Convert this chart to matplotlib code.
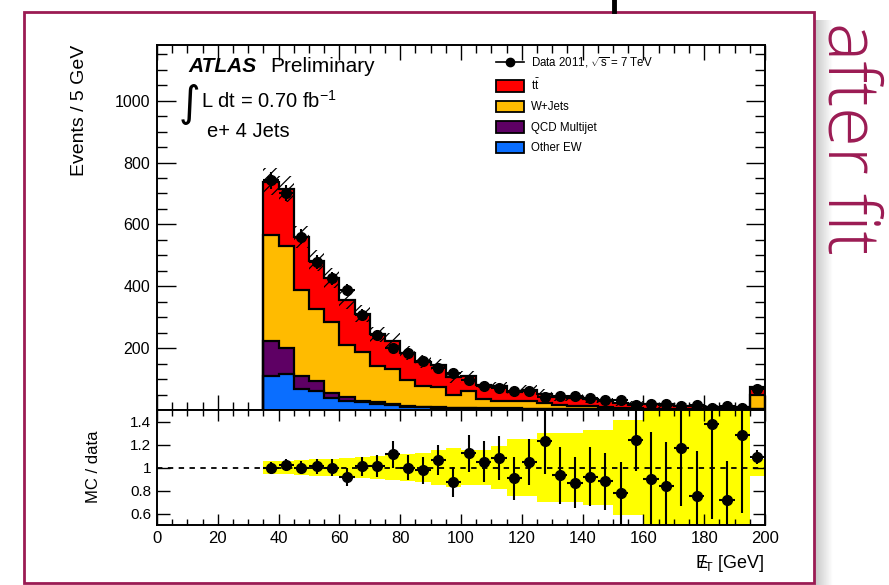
import numpy as np
import matplotlib
matplotlib.use("Agg")
import matplotlib.pyplot as plt
from matplotlib.patches import Patch, Rectangle
from matplotlib.lines import Line2D
from matplotlib.ticker import MultipleLocator

plt.rcParams["font.family"] = ["Liberation Sans", "DejaVu Sans"]
plt.rcParams["mathtext.fontset"] = "custom"
plt.rcParams["mathtext.rm"] = "Liberation Sans"
plt.rcParams["mathtext.it"] = "Liberation Sans:italic"
plt.rcParams["mathtext.bf"] = "Liberation Sans:bold"
plt.rcParams["hatch.linewidth"] = 0.9

# MET in 5 GeV bins starting at 35 GeV, the last bin holds the overflow
edges = np.arange(35, 201, 5)
centres = edges[:-1] + 2.5

data = [742, 702, 560, 478, 426, 388, 308, 242, 200, 184,
        160, 135, 121, 98, 78, 71, 63, 62, 43, 44,
        46, 38, 33, 31, 17, 20, 19, 12, 16, 8,
        14, 7, 68]
ttbar = [173, 185, 172, 155, 141, 146, 123, 104, 91, 86,
         78, 71, 58, 48, 47, 47, 28, 37, 31, 24,
         28, 23, 20, 17, 16, 14, 13, 11, 9, 9,
         8, 7, 26]
wjets = [341, 330, 277, 233, 230, 169, 160, 116, 112, 84,
         67, 64, 40, 55, 29, 25, 24, 24, 18, 14,
         9, 10, 7, 5, 4, 3, 2, 2, 2, 1,
         1, 1, 44]
qcd = [115, 84, 43, 33, 17, 11, 3, 6, 5, 3,
       2, 2, 2, 2, 2, 1, 2, 1, 1, 1,
       1, 0, 1, 1, 0, 0, 0, 0.5, 0.5, 0.5,
       0.5, 0.5, 2]
other_ew = [109, 116, 68, 62, 38, 30, 25, 19, 15, 11,
            9, 7, 6, 5, 4, 4, 3, 3, 3, 2,
            2, 2, 1, 1, 1, 1, 1, 0.5, 0.5, 0.5,
            0.5, 0.5, 2]
# relative MC uncertainty (yellow band / hatching)
mc_unc = [0.058, 0.06, 0.065, 0.07, 0.075, 0.08, 0.09, 0.10, 0.11, 0.12,
          0.13, 0.15, 0.17, 0.15, 0.15, 0.19, 0.25, 0.25, 0.30, 0.30,
          0.30, 0.33, 0.33, 0.41, 0.41, 0.6, 0.6, 0.6, 0.6, 0.6,
          0.6, 0.6, 0.07]
ratio_err = [0.05, 0.053, 0.058, 0.065, 0.07, 0.077, 0.083, 0.097, 0.117, 0.108,
             0.118, 0.13, 0.13, 0.16, 0.18, 0.19, 0.19, 0.2, 0.285, 0.245,
             0.22, 0.256, 0.25, 0.27, 0.27, 0.41, 0.38, 0.5, 0.39, 0.82,
             0.34, 0.68, 0.06]

samples = [other_ew, qcd, wjets, ttbar]
colours = ["#0a6eff", "#5e0064", "#ffbb00", "#ff0000"]
labels = [r"Data 2011, $\sqrt{\mathrm{s}}$ = 7 TeV", r"$\mathrm{t\bar{t}}$",
          "W+Jets", "QCD Multijet", "Other EW"]

maroon = "#9b1b53"

fig = plt.figure(figsize=(8.89, 5.85), dpi=100)
ax = fig.add_axes([157 / 889, 1 - 410 / 585, 608 / 889, 365 / 585])
rax = fig.add_axes([157 / 889, 1 - 525 / 585, 608 / 889, 115 / 585], sharex=ax)

# stacked backgrounds, drawn from the total downwards
levels = np.cumsum(samples, axis=0)
for level, colour in reversed(list(zip(levels, colours))):
    ax.stairs(level, edges, fill=True, color=colour, zorder=2)
    ax.stairs(level, edges, color="black", lw=1.6, zorder=3)

mc_total = levels[-1]
unc = np.array(mc_unc)
ax.stairs(mc_total * (1 + unc), edges, baseline=mc_total * (1 - unc), fill=True,
          facecolor="none", edgecolor="black", hatch="///", lw=0, zorder=4)

data = np.array(data, dtype=float)
ax.errorbar(centres, data, yerr=np.sqrt(data), xerr=2.5, fmt="o", color="black",
            ms=7, lw=1.5, capsize=0, zorder=5)

ax.set_xlim(0, 200)
ax.set_ylim(0, 1180)
ax.set_yticks([200, 400, 600, 800, 1000])
ax.yaxis.set_minor_locator(MultipleLocator(50))
ax.xaxis.set_major_locator(MultipleLocator(20))
ax.xaxis.set_minor_locator(MultipleLocator(5))
ax.tick_params(which="both", direction="in", top=True, right=True, width=1.0,
               labelbottom=False, labelsize=11.5, pad=5)
ax.tick_params(axis="y", which="major", length=14)
ax.tick_params(axis="y", which="minor", length=7)
ax.tick_params(axis="x", which="major", length=11)
ax.tick_params(axis="x", which="minor", length=5.5)

ax.text(0.051, 0.94, "ATLAS", transform=ax.transAxes, fontsize=15,
        fontweight="bold", style="italic", va="center")
ax.text(0.186, 0.94, "Preliminary", transform=ax.transAxes, fontsize=15, va="center")
ax.text(0.053, 0.838, "\u222b", transform=ax.transAxes, fontsize=30,
        family="DejaVu Sans", ha="center", va="center")
ax.text(0.072, 0.827, r"L dt = 0.70 fb$^{\mathregular{-1}}$", transform=ax.transAxes,
        fontsize=14.5, va="baseline")
ax.text(0.082, 0.748, "e+ 4 Jets", transform=ax.transAxes, fontsize=14.5, va="baseline")

handles = [Line2D([], [], color="black", marker="o", ms=6, lw=1.2)]
for colour in reversed(colours):
    handles.append(Patch(facecolor=colour, edgecolor="black", lw=1.3))
ax.legend(handles, labels, loc="upper left", bbox_to_anchor=(0.558, 0.972),
          frameon=False, fontsize=8.3, handlelength=2.4, handleheight=1.15,
          labelspacing=0.68, handletextpad=0.6, borderpad=0, borderaxespad=0)

# ratio panel
ratio = mc_total / data
rax.stairs(1 + unc, edges, baseline=1 - unc, fill=True, color="#ffff00", zorder=1)
rax.axhline(1, color="black", lw=1.3, ls=(0, (3, 3)), zorder=2)
rax.errorbar(centres, ratio, yerr=ratio_err, xerr=2.5, fmt="o", color="black",
             ms=7, lw=1.5, capsize=0, zorder=3)
rax.set_ylim(0.5, 1.5)
rax.set_yticks([0.6, 0.8, 1.0, 1.2, 1.4])
rax.set_yticklabels(["0.6", "0.8", "1", "1.2", "1.4"])
rax.tick_params(which="both", direction="in", top=True, right=True, width=1.0, pad=4)
rax.tick_params(axis="y", which="major", length=9, labelsize=11)
rax.tick_params(axis="x", which="major", length=8, labelsize=12)
rax.tick_params(axis="x", which="minor", length=4)

for a in (ax, rax):
    for s in a.spines.values():
        s.set_linewidth(1.4)

fig.text(80 / 889, 1 - 45 / 585, "Events / 5 GeV", rotation=90, fontsize=14,
         ha="center", va="top")
fig.text(93 / 889, 1 - 467 / 585, "MC / data", rotation=90, fontsize=12,
         ha="center", va="center")
fig.text(765 / 889, 1 - 563 / 585, r"$\mathregular{E\!\!\!/_{T}}$ [GeV]",
         fontsize=13, ha="right", va="center")

# slide frame, its drop shadow and side caption
shadow = fig.add_axes([815 / 889, 0, 18 / 889, 1 - 20 / 585])
shadow.imshow(np.linspace(0.78, 1.0, 64)[None, :], cmap="gray", vmin=0, vmax=1,
              aspect="auto", interpolation="bilinear")
shadow.set_axis_off()
fig.add_artist(Rectangle((24 / 889, 2 / 585), 790 / 889, 571 / 585,
                         transform=fig.transFigure, fill=False,
                         edgecolor=maroon, lw=2.0))
fig.add_artist(Line2D([614 / 889] * 2, [1, 1 - 11 / 585], transform=fig.transFigure,
                      color="black", lw=3.5))
fig.text(812 / 889, 1 - 22 / 585, "after fit", rotation=-90, fontsize=52,
         family=["Open Sans", "DejaVu Sans"], fontweight="light", color=maroon,
         ha="left", va="top")

fig.savefig("out.png", dpi=100)
